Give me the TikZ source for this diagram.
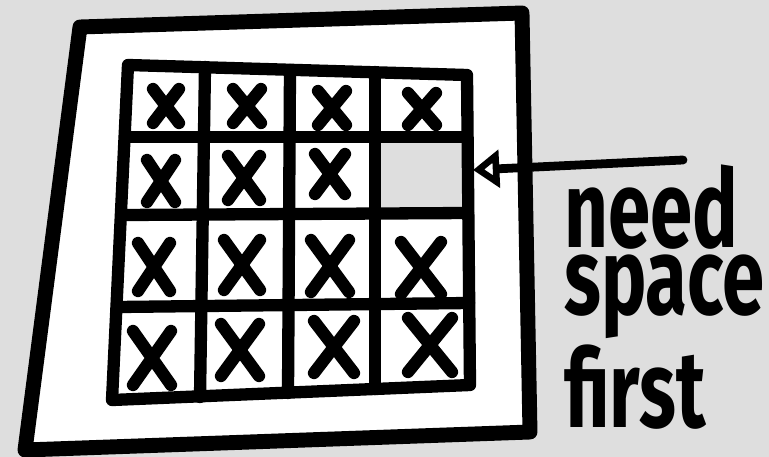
\documentclass[tikz,border=0pt]{standalone}
\usepackage{fontspec}
\setsansfont{Fira Sans}
\usetikzlibrary{arrows.meta,calc}
\definecolor{ink}{HTML}{000000}
\definecolor{paper}{HTML}{DEDEDE}
\tikzset{
  >={Triangle[open,length=15pt,width=21pt,line width=6.5pt]},
  frame/.style={draw=ink,line width=8.5pt,line join=round,line cap=round,fill=white},
  rule/.style={draw=ink,line width=7pt,line cap=round,line join=round},
  cross/.style={draw=ink,line width=7pt,line cap=round},
  note/.style={font={\sffamily\bfseries\fontsize{62}{62}\selectfont},align=left,anchor=base west,inner sep=0pt,xscale=0.7,transform shape},
}
\begin{document}
\begin{tikzpicture}[x=0.02cm,y=-0.02cm]
  \useasboundingbox (0,0) rectangle (769,457);
  \fill[paper] (0,0) rectangle (769,457);
  % sheet
  \draw[frame] (80,27) -- (522,13) -- (530,432) -- (25,450) -- cycle;
  % the free slot
  \fill[paper] (375,137) -- (467,137) -- (468,213) -- (375,214) -- cycle;
  % grid
  \draw[rule] (128,65) -- (467,75) -- (470,385) -- (112,400) -- cycle;
  \foreach \xl/\yl/\xr/\yr in {125/137/467/137, 122/215/468/213, 118/307/469/303}
    \draw[rule] (\xl,\yl) -- (\xr,\yr);
  \foreach \xt/\yt/\xb/\yb in {205/67/200/397, 290/70/288/393, 375/72/375/389}
    \draw[rule] (\xt,\yt) -- (\xb,\yb);
  % crosses
  \foreach \cx/\cy/\w/\h in {166/106/13/17, 247/106/14/17, 332/108/14/17, 422/109/14/16,
                             161/181/14/21, 244/178/16/22, 330/174/15/20,
                             154/267/16/24, 242/265/18/25, 330/266/19/26, 421/268/20/26,
                             152/358/19/27, 240/350/19/26, 334/347/20/26, 430/345/22/27}
    \draw[cross] (\cx-\w,\cy-\h) -- (\cx+\w,\cy+\h) (\cx+\w,\cy-\h) -- (\cx-\w,\cy+\h);
  % arrow and note
  \coordinate (slot) at (473,170);
  \coordinate (tail) at (683,160);
  \draw[ink,line width=5pt,line cap=round,->] (tail) -- (slot);
  \node[note] (note) at (564,427) {need\\[-24pt]space\\[2pt]first};
\end{tikzpicture}
\end{document}
